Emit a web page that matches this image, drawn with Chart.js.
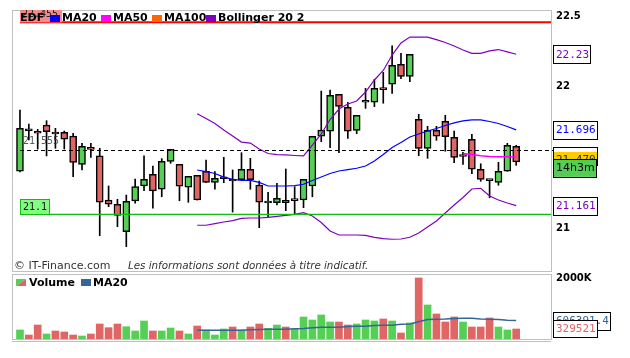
<!DOCTYPE html>
<html><head><meta charset="utf-8">
<script src="https://cdn.jsdelivr.net/npm/chart.js@4.4.1/dist/chart.umd.min.js"></script>
<style>
html,body{margin:0;padding:0;background:#fff;width:630px;height:358px;overflow:hidden}
canvas{position:absolute;left:0}
#c1{top:0}
#c2{top:273px}
</style></head><body>
<canvas id="c1" width="630" height="273"></canvas>
<canvas id="c2" width="630" height="85"></canvas>
<script>
// ---------- data ----------
const opens  = [21.404,21.695,21.686,21.730,21.672,21.679,21.653,21.453,21.563,21.512,21.201,21.171,20.977,21.194,21.300,21.383,21.277,21.474,21.453,21.291,21.375,21.403,21.326,21.351,21.339,21.344,21.418,21.307,21.180,21.182,21.199,21.197,21.201,21.300,21.651,21.686,21.947,21.855,21.693,21.905,21.891,21.984,22.018,22.159,22.074,21.771,21.566,21.693,21.757,21.644,21.508,21.630,21.418,21.342,21.326,21.404,21.580];
const highs  = [21.836,21.737,21.700,21.761,21.707,21.688,21.672,21.601,21.601,21.566,21.300,21.206,21.236,21.349,21.512,21.441,21.493,21.559,21.453,21.368,21.375,21.483,21.401,21.502,21.413,21.535,21.495,21.335,21.255,21.319,21.420,21.295,21.347,21.651,21.970,21.977,21.947,21.890,21.799,21.989,22.053,22.102,22.290,22.236,22.229,21.806,21.721,21.721,21.799,21.688,21.538,21.665,21.457,21.345,21.467,21.601,21.587];
const lows   = [21.400,21.625,21.561,21.512,21.566,21.561,21.366,21.413,21.502,20.949,21.154,21.013,20.872,21.178,21.267,21.143,21.224,21.460,21.196,21.185,21.201,21.326,21.277,21.323,21.116,21.344,21.277,21.006,21.083,21.166,21.126,21.102,21.147,21.224,21.613,21.570,21.535,21.636,21.669,21.848,21.860,21.884,21.954,22.057,22.036,21.514,21.495,21.622,21.545,21.464,21.453,21.387,21.333,21.217,21.305,21.404,21.446];
const closes = [21.707,21.690,21.672,21.683,21.667,21.630,21.467,21.580,21.558,21.185,21.171,21.093,21.192,21.295,21.347,21.265,21.474,21.559,21.298,21.368,21.201,21.326,21.354,21.365,21.335,21.418,21.344,21.185,21.190,21.213,21.182,21.201,21.347,21.651,21.695,21.940,21.862,21.686,21.799,21.891,21.989,21.980,22.152,22.074,22.229,21.566,21.693,21.651,21.648,21.502,21.512,21.418,21.347,21.338,21.404,21.587,21.470];
const volumes = [297000,132000,461000,165000,264000,231000,132000,99000,165000,494000,373000,494000,406000,264000,593000,264000,264000,362000,264000,165000,428000,297000,132000,330000,395000,297000,395000,494000,351000,461000,395000,318000,725000,626000,791000,560000,560000,461000,494000,626000,593000,659000,593000,198000,527000,2010000,1120000,824000,560000,725000,560000,395000,395000,692000,395000,297000,329521];

// overlays (first index given by *Start)
const ma20Start = 20;
const ma20 = [21.413,21.402,21.388,21.363,21.347,21.340,21.339,21.325,21.300,21.300,21.300,21.303,21.312,21.339,21.363,21.388,21.406,21.416,21.425,21.441,21.476,21.522,21.572,21.607,21.646,21.667,21.688,21.706,21.727,21.745,21.759,21.766,21.766,21.755,21.741,21.720,21.696];
const bollStart = 20;
const bollUpper = [21.810,21.776,21.741,21.695,21.653,21.610,21.603,21.561,21.529,21.522,21.519,21.515,21.512,21.589,21.667,21.769,21.843,21.879,21.900,21.963,22.048,22.115,22.224,22.309,22.351,22.351,22.351,22.333,22.313,22.288,22.260,22.236,22.236,22.253,22.263,22.246,22.230];
const bollLower = [21.023,21.023,21.035,21.046,21.056,21.071,21.074,21.074,21.078,21.085,21.092,21.100,21.112,21.088,21.042,20.982,20.954,20.954,20.954,20.951,20.938,20.929,20.924,20.926,20.938,20.968,21.011,21.053,21.109,21.166,21.219,21.279,21.284,21.229,21.201,21.180,21.161];
const ma50Start = 50;
const ma50 = [21.530,21.522,21.514,21.508,21.507,21.506,21.505];
const volMaStart = 20;
const volMa20 = [285000,287000,290000,292000,290000,288000,305000,315000,320000,322000,318000,335000,342000,372000,385000,390000,388000,410000,418000,420000,445000,452000,455000,488000,496000,565000,640000,652000,655000,675000,682000,680000,655000,648000,645000,620000,606391.4];

const priceTicks = [21, 22, 22.5];
const volTicks = [2000000];
const levelRed = 22.455, levelGreen = 21.1, levelDashed = 21.555;
const lastPriceLabel = '21.470';
const timeLabel = '14h3m';
const legendNames = ['MA20','MA50','MA100','Bollinger 20 2'];
const title = 'EDF';

// ---------- styles ----------
const GREEN = '#55d055', RED = '#e06666', PURPLE = '#8000c0', BLUE = '#0000ff',
      MAGENTA = '#ff00ff', ORANGE = '#ff6600', VOLBLUE = '#336699', FRAME = '#c0c0c0';
const MONO = '"DejaVu Sans Mono", monospace', SANS = '"DejaVu Sans", Verdana, sans-serif';
const X_MIN = -0.9, X_MAX = 59.93;

const idx = opens.map((_, i) => i);
const bodyColors = idx.map(i => closes[i] >= opens[i] ? GREEN : RED);
const volColors = idx.map(i => (i === 0 || closes[i] >= closes[i - 1]) ? GREEN : RED);
const series = (arr, start) => arr.map((v, k) => ({x: k + start, y: v}));

function fitAxis(w) {
  return s => { s.width = w; s.paddingTop = 0; s.paddingBottom = 0; };
}

function labelBox(ctx, text, x, cy, fill, color, font, h) {
  ctx.font = font;
  const w = Math.round(ctx.measureText(text).width) + 4;
  ctx.fillStyle = fill;
  ctx.fillRect(x, cy - h / 2, w, h);
  ctx.strokeStyle = '#000'; ctx.lineWidth = 1;
  ctx.strokeRect(x + 0.5, Math.round(cy - h / 2) + 0.5, w, h);
  ctx.fillStyle = color; ctx.textBaseline = 'middle'; ctx.textAlign = 'left';
  ctx.fillText(text, x + 3, cy + 0.5);
}

const mainOverlay = {
  id: 'mainOverlay',
  afterDatasetsDraw(chart) {
    const {ctx, chartArea: a, scales: {y}} = chart;
    ctx.save();
    ctx.beginPath(); ctx.rect(a.left, a.top, a.right - a.left, a.bottom - a.top); ctx.clip();
    let py = y.getPixelForValue(levelRed);
    ctx.strokeStyle = '#ff0000'; ctx.lineWidth = 2;
    ctx.beginPath(); ctx.moveTo(20, py); ctx.lineTo(a.right, py); ctx.stroke();
    py = y.getPixelForValue(levelGreen);
    ctx.strokeStyle = '#11bb11'; ctx.lineWidth = 1.3;
    ctx.beginPath(); ctx.moveTo(20, py); ctx.lineTo(a.right, py); ctx.stroke();
    py = Math.round(y.getPixelForValue(levelDashed)) + 0.5;
    ctx.restore(); ctx.save();
    ctx.strokeStyle = '#000'; ctx.lineWidth = 1; ctx.setLineDash([4, 3]);
    ctx.beginPath(); ctx.moveTo(20, py); ctx.lineTo(a.right + 3, py); ctx.stroke();
    ctx.restore();
  },
  afterDraw(chart) {
    const {ctx, chartArea: a, scales: {y}} = chart;
    ctx.save();
    ctx.strokeStyle = FRAME; ctx.lineWidth = 1;
    ctx.strokeRect(a.left + 0.5, a.top + 0.5, a.right - a.left, a.bottom - a.top - 1);
    ctx.save();
    ctx.beginPath(); ctx.rect(a.left, a.top, a.right - a.left, a.bottom - a.top); ctx.clip();
    let py = y.getPixelForValue(levelRed);
    ctx.font = '10px ' + MONO;
    let w = ctx.measureText('22.455').width + 6;
    ctx.fillStyle = '#f48a8a'; ctx.fillRect(20, py - 16, w, 16);
    ctx.fillStyle = '#222'; ctx.textBaseline = 'middle'; ctx.fillText(levelRed.toFixed(3), 22, py - 8);
    ctx.restore();
    py = y.getPixelForValue(levelGreen);
    ctx.font = '10px ' + MONO;
    w = Math.round(ctx.measureText('21.1').width) + 5;
    ctx.fillStyle = '#80ff80'; ctx.fillRect(20, py - 15, w, 15);
    ctx.strokeStyle = '#11bb11'; ctx.strokeRect(20.5, Math.round(py - 15) + 0.5, w, 15);
    ctx.fillStyle = '#111'; ctx.textBaseline = 'middle'; ctx.fillText(String(levelGreen), 23, py - 7);
    py = y.getPixelForValue(levelDashed);
    ctx.fillStyle = 'rgba(50,50,50,0.8)';
    ctx.fillText(levelDashed.toFixed(3), 23, py - 8);
    // legend
    ctx.font = 'bold 11px ' + SANS; ctx.textBaseline = 'middle'; ctx.fillStyle = '#000';
    ctx.fillText(title, 20, 18);
    const sq = [50, 101, 152, 206], cols = [BLUE, MAGENTA, ORANGE, PURPLE];
    legendNames.forEach((n, k) => {
      ctx.fillStyle = cols[k]; ctx.fillRect(sq[k], 15, 10, 7);
      ctx.fillStyle = '#000'; ctx.fillText(n, sq[k] + 12, 18);
    });
    // copyright
    ctx.fillStyle = '#333'; ctx.font = '11px ' + SANS;
    ctx.fillText('© IT-Finance.com', 14, 266);
    ctx.font = 'italic 10.3px ' + SANS;
    ctx.fillText('Les informations sont données à titre indicatif.', 128, 266);
    // right labels
    const fmt = v => String(parseFloat(v.toFixed(3)));
    const f11 = '11px ' + MONO;
    labelBox(ctx, fmt(bollUpper[bollUpper.length - 1]), 553, y.getPixelForValue(bollUpper[bollUpper.length - 1]), '#fff', PURPLE, f11, 18);
    labelBox(ctx, fmt(ma20[ma20.length - 1]), 553, y.getPixelForValue(ma20[ma20.length - 1]), '#fff', BLUE, f11, 18);
    labelBox(ctx, fmt(bollLower[bollLower.length - 1]), 553, y.getPixelForValue(bollLower[bollLower.length - 1]), '#fff', PURPLE, f11, 18);
    const pl = y.getPixelForValue(closes[closes.length - 1]);
    ctx.font = f11;
    const lw = Math.round(ctx.measureText(lastPriceLabel).width) + 4;
    ctx.fillStyle = '#fff'; ctx.fillRect(553, pl - 14.5, lw, 18);
    ctx.strokeStyle = '#000'; ctx.strokeRect(553.5, Math.round(pl - 14.5) + 0.5, lw, 18);
    ctx.fillStyle = '#ffcc00'; ctx.fillRect(554, pl - 10, lw - 1, 14);
    ctx.fillStyle = '#333'; ctx.textBaseline = 'top'; ctx.fillText(lastPriceLabel, 556, pl - 7);
    ctx.fillStyle = '#55cc55'; ctx.fillRect(553, pl - 3, lw, 18);
    ctx.strokeStyle = '#000'; ctx.strokeRect(553.5, Math.round(pl - 3) + 0.5, lw - 1, 18);
    ctx.fillStyle = '#000'; ctx.font = '11px ' + SANS; ctx.textBaseline = 'middle';
    ctx.fillText(timeLabel, 556, pl + 6.5);
    ctx.restore();
  }
};

new Chart(document.getElementById('c1'), {
  type: 'bar',
  data: {
    datasets: [
      {type: 'line', data: series(bollUpper, bollStart), borderColor: PURPLE, borderWidth: 1.2, pointRadius: 0, order: 0},
      {type: 'line', data: series(bollLower, bollStart), borderColor: PURPLE, borderWidth: 1.2, pointRadius: 0, order: 0},
      {type: 'line', data: series(ma20, ma20Start), borderColor: BLUE, borderWidth: 1.2, pointRadius: 0, order: 0},
      {type: 'line', data: series(ma50, ma50Start), borderColor: MAGENTA, borderWidth: 1.5, pointRadius: 0, order: 0},
      {data: idx.map(i => ({x: i, y: [Math.min(opens[i], closes[i]), Math.max(opens[i], closes[i])]})),
       backgroundColor: bodyColors, borderColor: '#000', borderWidth: 1.5, borderSkipped: false,
       barThickness: 7, minBarLength: 2, grouped: false, order: 1},
      {data: idx.map(i => ({x: i, y: [lows[i], highs[i]]})),
       backgroundColor: '#000', borderWidth: 0, barThickness: 1, grouped: false, order: 2}
    ]
  },
  options: {
    responsive: false, maintainAspectRatio: false, devicePixelRatio: 1, animation: false,
    layout: {padding: {left: 12, top: 10, right: 0, bottom: 1}},
    plugins: {legend: {display: false}, tooltip: {enabled: false}},
    scales: {
      x: {type: 'linear', min: X_MIN, max: X_MAX, offset: false, display: false},
      y: {position: 'right', min: 20.693, max: 22.542,
          grid: {display: false, drawTicks: false}, border: {display: false},
          afterBuildTicks: s => { s.ticks = priceTicks.map(v => ({value: v})); },
          afterFit: fitAxis(79),
          ticks: {padding: 5, color: '#000', font: {family: SANS, size: 10, weight: 'bold'},
                  callback: v => String(v)}}
    }
  },
  plugins: [mainOverlay]
});

const volOverlay = {
  id: 'volOverlay',
  afterDraw(chart) {
    const {ctx, chartArea: a, scales: {y}} = chart;
    ctx.save();
    ctx.strokeStyle = FRAME; ctx.lineWidth = 1;
    ctx.strokeRect(a.left + 0.5, a.top + 0.5, a.right - a.left, a.bottom - a.top);
    ctx.beginPath(); ctx.moveTo(a.left, a.bottom + 2.5); ctx.lineTo(a.right, a.bottom + 2.5); ctx.stroke();
    ctx.fillStyle = GREEN; ctx.beginPath(); ctx.moveTo(16, 6); ctx.lineTo(26, 6); ctx.lineTo(16, 13); ctx.fill();
    ctx.fillStyle = RED; ctx.beginPath(); ctx.moveTo(26, 6); ctx.lineTo(26, 13); ctx.lineTo(16, 13); ctx.fill();
    ctx.font = 'bold 11px ' + SANS; ctx.textBaseline = 'middle'; ctx.fillStyle = '#000';
    ctx.fillText('Volume', 29, 10);
    ctx.fillStyle = VOLBLUE; ctx.fillRect(81, 6, 10, 7);
    ctx.fillStyle = '#000'; ctx.fillText('MA20', 93, 10);
    const f11 = '11px ' + MONO;
    const lastMa = volMa20[volMa20.length - 1], lastV = volumes[volumes.length - 1];
    labelBox(ctx, String(lastMa), 553, y.getPixelForValue(lastMa), '#fff', VOLBLUE, f11, 18);
    labelBox(ctx, String(lastV), 553, y.getPixelForValue(lastV), '#fff', RED, f11, 17);
    ctx.restore();
  }
};

new Chart(document.getElementById('c2'), {
  type: 'bar',
  data: {
    datasets: [
      {type: 'line', data: series(volMa20, volMaStart), borderColor: VOLBLUE, borderWidth: 1.5, pointRadius: 0, order: 0},
      {data: idx.map(i => ({x: i, y: volumes[i]})), backgroundColor: volColors, borderWidth: 0,
       barThickness: 7, grouped: false, order: 1}
    ]
  },
  options: {
    responsive: false, maintainAspectRatio: false, devicePixelRatio: 1, animation: false,
    layout: {padding: {left: 12, top: 1, right: 0, bottom: 19}},
    plugins: {legend: {display: false}, tooltip: {enabled: false}},
    scales: {
      x: {type: 'linear', min: X_MIN, max: X_MAX, offset: false, display: false},
      y: {position: 'right', min: 0, max: 2140000,
          grid: {display: false, drawTicks: false}, border: {display: false},
          afterBuildTicks: s => { s.ticks = volTicks.map(v => ({value: v})); },
          afterFit: fitAxis(79),
          ticks: {padding: 5, color: '#000', font: {family: SANS, size: 10, weight: 'bold'},
                  callback: v => (v / 1000) + 'K'}}
    }
  },
  plugins: [volOverlay]
});
</script>
</body></html>
